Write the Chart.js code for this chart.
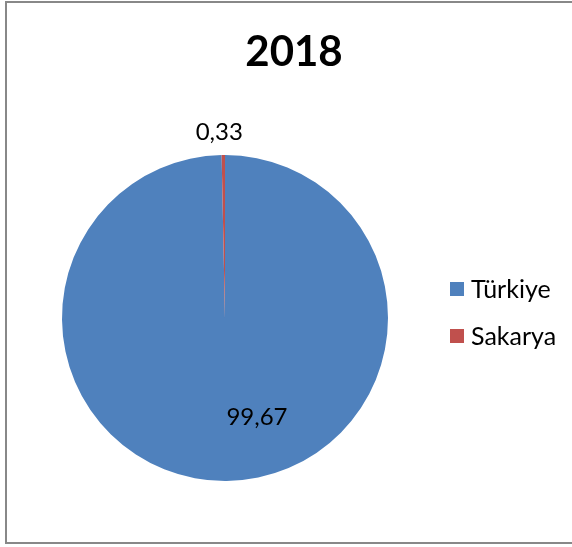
<!DOCTYPE html>
<html>
<head>
<meta charset="utf-8">
<script src="https://cdn.jsdelivr.net/npm/chart.js@4/dist/chart.umd.min.js"></script>
<style>
  html, body { margin: 0; padding: 0; background: #fff; overflow: hidden; }
  #frame { position: absolute; left: 5px; top: 1px; width: 600px; height: 539px; border: 2px solid #888; box-sizing: content-box; }
  #wrap { position: absolute; left: 0; top: 0; width: 572px; height: 547px; }
</style>
</head>
<body>
<div id="frame"></div>
<div id="wrap"><canvas id="c" width="572" height="547"></canvas></div>
<script>
const chartTitle = "2018";
const categories = ["Türkiye", "Sakarya"];
const values = [99.67, 0.33];
const valueLabels = ["99,67", "0,33"];
const colors = ["#4F81BD", "#C0504D"];

const FONT = "Lato, 'Open Sans', sans-serif";

const overlay = {
  id: "overlay",
  afterDraw(chart) {
    const ctx = chart.ctx;
    const meta = chart.getDatasetMeta(0);
    const arc0 = meta.data[0];
    const cx = arc0.x, cy = arc0.y, r = arc0.outerRadius;
    ctx.save();
    // title
    ctx.fillStyle = "#000";
    ctx.textAlign = "center";
    ctx.textBaseline = "middle";
    ctx.font = "bold 42px " + FONT;
    ctx.fillText(chartTitle, 294, 52);
    // data labels
    ctx.font = "24px " + FONT;
    ctx.fillText(valueLabels[0], cx + 0.196 * r, cy + 0.61 * r);
    ctx.fillText(valueLabels[1], cx - 0.035 * r, cy - 1.138 * r);
    // legend
    ctx.textAlign = "left";
    ctx.font = "25px " + FONT;
    categories.forEach((lab, i) => {
      const y = 289 + i * 47;
      ctx.fillStyle = colors[i];
      ctx.fillRect(450, y - 7, 14, 14);
      ctx.fillStyle = "#000";
      ctx.fillText(lab, 471, y + 1);
    });
    ctx.restore();
  }
};

new Chart(document.getElementById("c"), {
  type: "pie",
  data: {
    labels: categories,
    datasets: [{
      data: values,
      backgroundColor: colors,
      borderWidth: 0
    }]
  },
  options: {
    responsive: false,
    animation: false,
    layout: { padding: { left: 62, right: 184, top: 155, bottom: 66 } },
    plugins: {
      legend: { display: false },
      title: { display: false },
      tooltip: { enabled: false }
    }
  },
  plugins: [overlay]
});
</script>
</body>
</html>
